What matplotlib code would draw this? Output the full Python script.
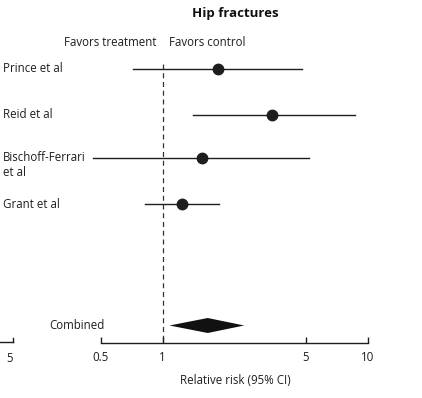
import matplotlib
matplotlib.use("Agg")
import matplotlib.pyplot as plt
import numpy as np

plt.rcParams['font.family'] = ['Open Sans', 'DejaVu Sans']

# ---- data ----
studies = ["Prince et al", "Reid et al", "Bischoff-Ferrari\net al", "Grant et al"]
rr = [1.87, 3.42, 1.55, 1.25]
ci_low = [0.72, 1.40, 0.46, 0.82]
ci_high = [4.78, 8.65, 5.17, 1.89]
combined_label = "Combined"
combined_rr = 1.66
combined_low = 1.08
combined_high = 2.50
tick_values = [0.5, 1, 5, 10]
tick_labels = ["0.5", "1", "5", "10"]
title = "Hip fractures"
xlabel = "Relative risk (95% CI)"
left_label = "Favors treatment"
right_label = "Favors control"

# ---- layout (pixel-like y coordinates, inverted) ----
W, H = 422, 398
P1, DEC = 162.6, 205.0
fig = plt.figure(figsize=(W / 100, H / 100), dpi=100)
ax = fig.add_axes([0, 0, 1, 1])
ax.set_xscale('log')
ax.set_xlim(10 ** ((0 - P1) / DEC), 10 ** ((W - P1) / DEC))
ax.set_ylim(H, 0)

row_y = [69, 115, 158, 204]
comb_y = 325.5
axis_y = 342.7

for y, r, lo, hi in zip(row_y, rr, ci_low, ci_high):
    ax.plot([lo, hi], [y, y], color='#1e1e1e', lw=1.0, zorder=2)
    ax.plot([r], [y], 'o', color='#1e1e1e', ms=7.5, zorder=3)

# study labels
label_y = [69, 115, 165, 204]
for y, s in zip(label_y, studies):
    ax.text(3 / W, 1 - y / H, s, transform=ax.transAxes, ha='left', va='center',
            fontsize=8.3, color='#1e1e1e', linespacing=1.25)

# combined diamond
dy = 7.5
ax.fill([combined_low, combined_rr, combined_high, combined_rr],
        [comb_y, comb_y - dy, comb_y, comb_y + dy], color='#111111', lw=0, zorder=3)
ax.text(105 / W, 1 - comb_y / H, combined_label, transform=ax.transAxes,
        ha='right', va='center', fontsize=8.3, color='#1e1e1e')

# reference line
ax.plot([1, 1], [64, axis_y - 2], color='#333333', lw=0.9, ls=(0, (4, 3)), zorder=1)

# axis
for s in ['top', 'right', 'left']:
    ax.spines[s].set_visible(False)
ax.spines['bottom'].set_position(('data', axis_y))
ax.spines['bottom'].set_bounds(tick_values[0], tick_values[-1])
ax.spines['bottom'].set_linewidth(1.0)
ax.spines['bottom'].set_color('#1e1e1e')
ax.set_xticks(tick_values)
ax.set_xticklabels(tick_labels)
ax.xaxis.set_minor_locator(matplotlib.ticker.NullLocator())
ax.tick_params(axis='x', direction='in', length=4, width=1.0, color='#1e1e1e',
               labelsize=8.3, labelcolor='#1e1e1e', pad=6)
ax.set_yticks([])

# fragment of neighbouring panel axis at far left
ax.plot([0, 13 / W], [1 - 341.7 / H, 1 - 341.7 / H], transform=ax.transAxes,
        color='#1e1e1e', lw=1.0, clip_on=False)
ax.plot([13 / W, 13 / W], [1 - 341.7 / H, 1 - 337.5 / H], transform=ax.transAxes,
        color='#1e1e1e', lw=1.0, clip_on=False)
ax.text(10 / W, 1 - 358 / H, "5", transform=ax.transAxes, ha='center', va='center',
        fontsize=8.3, color='#1e1e1e')

# titles
ax.text(235 / W, 1 - 13 / H, title, transform=ax.transAxes, ha='center', va='center',
        fontsize=9.5, fontweight='bold', color='#111111')
ax.text(157 / W, 1 - 42 / H, left_label, transform=ax.transAxes, ha='right', va='center',
        fontsize=8.3, color='#1e1e1e')
ax.text(169 / W, 1 - 42 / H, right_label, transform=ax.transAxes, ha='left', va='center',
        fontsize=8.3, color='#1e1e1e')
ax.text(235 / W, 1 - 381 / H, xlabel, transform=ax.transAxes, ha='center', va='center',
        fontsize=8.3, color='#1e1e1e')

fig.savefig("out.png", dpi=100, facecolor='white')
